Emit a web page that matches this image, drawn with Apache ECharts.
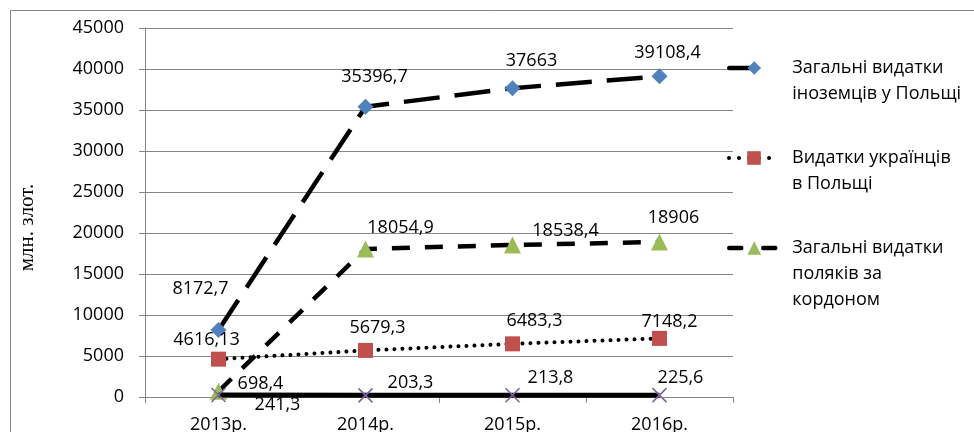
<!DOCTYPE html>
<html>
<head>
<meta charset="utf-8">
<script src="https://cdn.jsdelivr.net/npm/echarts@6/dist/echarts.min.js"></script>
<style>
html,body{margin:0;padding:0;background:#fff;}
#chart{width:974px;height:432px;}
</style>
</head>
<body>
<div id="chart"></div>
<script>
// ---- data ----
const categories = ['2013р.', '2014р.', '2015р.', '2016р.'];
const seriesNames = [
  'Загальні видатки\nіноземців у Польщі',
  'Видатки українців\nв Польщі',
  'Загальні видатки\nполяків за\nкордоном',
  'Ряд 4'
];
const foreignersInPoland = [8172.7, 35396.7, 37663, 39108.4];
const ukrainiansInPoland = [4616.13, 5679.3, 6483.3, 7148.2];
const polesAbroad = [698.4, 18054.9, 18538.4, 18906];
const series4Values = [241.3, 203.3, 213.8, 225.6];
const yTicks = { min: 0, max: 45000, interval: 5000 };
const yAxisName = 'млн. злот.';

// ---- label placement (layout only) ----
const labelOffsets = [
  [[-18, -41], [9, -30], [19, -27], [8, -23]],
  [[-12, -19], [12, -23], [22, -23], [10, -17]],
  [[42, -7], [35, -21], [53, -14], [14, -24]],
  [[59, 10], [45, -12], [38, -17], [21, -17]]
];

const FONT = 'Open Sans';
const GRID = '#868686';
const fmt = v => String(v).replace('.', ',');

function withLabels(values, idx) {
  return values.map((v, i) => ({
    value: v,
    label: { offset: labelOffsets[idx][i] }
  }));
}

const baseLabel = {
  show: true,
  position: 'inside',
  align: 'center',
  verticalAlign: 'middle',
  color: '#000',
  fontFamily: FONT,
  fontSize: 18,
  formatter: p => fmt(p.value)
};

const styles = [
  { symbol: 'diamond', symbolSize: 16, color: '#4F81BD', line: { color: '#000', width: 4.5, type: [36, 15] } },
  { symbol: 'rect', symbolSize: 15, color: '#C0504D', line: { color: '#000', width: 4, type: [0.01, 8], cap: 'round' } },
  { symbol: 'triangle', symbolSize: 17, color: '#9BBB59', line: { color: '#000', width: 4.5, type: [18, 15] } },
  { symbol: 'path://M0,0L10,10M10,0L0,10', symbolSize: 14, color: 'rgba(0,0,0,0)', border: '#8064A2', line: { color: '#000', width: 5, type: 'solid' } }
];
const legendLineStyles = [
  { color: '#000', width: 4.5, type: [22, 100], cap: 'round' },
  { color: '#000', width: 4, type: [0.01, 10], cap: 'round' },
  { color: '#000', width: 4.5, type: [12, 22], cap: 'round' }
];

const allValues = [foreignersInPoland, ukrainiansInPoland, polesAbroad, series4Values];

const series = allValues.map((vals, idx) => {
  const s = styles[idx];
  return {
    name: seriesNames[idx],
    type: 'line',
    data: withLabels(vals, idx),
    symbol: s.symbol,
    symbolSize: s.symbolSize,
    showAllSymbol: true,
    itemStyle: s.border ? { color: s.color, borderColor: s.border, borderWidth: 1.6 } : { color: s.color },
    lineStyle: s.line,
    label: baseLabel,
    z: 2 + idx
  };
});

const legendTops = [29, 119, 183];
const legends = [0, 1, 2].map(i => ({
  data: [seriesNames[i]],
  orient: 'vertical',
  left: 727,
  top: legendTops[i],
  padding: 0,
  itemWidth: 50,
  itemHeight: 17,
  selectedMode: false,
  lineStyle: legendLineStyles[i],
  formatter: name => {
    const n = name.split('\n').length;
    return '\n'.repeat(n - 1) + name;
  },
  textStyle: {
    fontFamily: FONT,
    fontSize: 18,
    color: '#000',
    lineHeight: 26,
    padding: [0, 0, 0, 8]
  }
}));

const chart = echarts.init(document.getElementById('chart'), null, { renderer: 'canvas' });
chart.setOption({
  animation: false,
  backgroundColor: '#fff',
  graphic: [{
    type: 'rect',
    shape: { x: 10.5, y: 10.5, width: 1000, height: 500 },
    style: { fill: 'none', stroke: GRID, lineWidth: 1 },
    silent: true
  }],
  grid: { left: 145, right: 241, top: 28, bottom: 35, containLabel: false, outerBoundsMode: 'none' },
  legend: legends,
  xAxis: {
    type: 'category',
    data: categories,
    boundaryGap: true,
    axisLine: { lineStyle: { color: GRID, width: 1 } },
    axisTick: { show: true, length: 6, lineStyle: { color: GRID }, alignWithLabel: false },
    axisLabel: { color: '#000', fontFamily: FONT, fontSize: 18, margin: 19 },
    splitLine: { show: false }
  },
  yAxis: {
    type: 'value',
    min: yTicks.min,
    max: yTicks.max,
    interval: yTicks.interval,
    name: yAxisName,
    nameLocation: 'middle',
    nameGap: 107,
    nameTextStyle: { fontFamily: 'Liberation Serif', fontSize: 21, color: '#000', padding: [0, 30, 0, 0] },
    axisLine: { show: true, lineStyle: { color: GRID, width: 1 } },
    axisTick: { show: true, length: 6, lineStyle: { color: GRID } },
    axisLabel: { color: '#000', fontFamily: FONT, fontSize: 18, margin: 21, formatter: v => String(v) },
    splitLine: { show: true, lineStyle: { color: GRID, width: 1 } }
  },
  series: series
});
</script>
</body>
</html>
